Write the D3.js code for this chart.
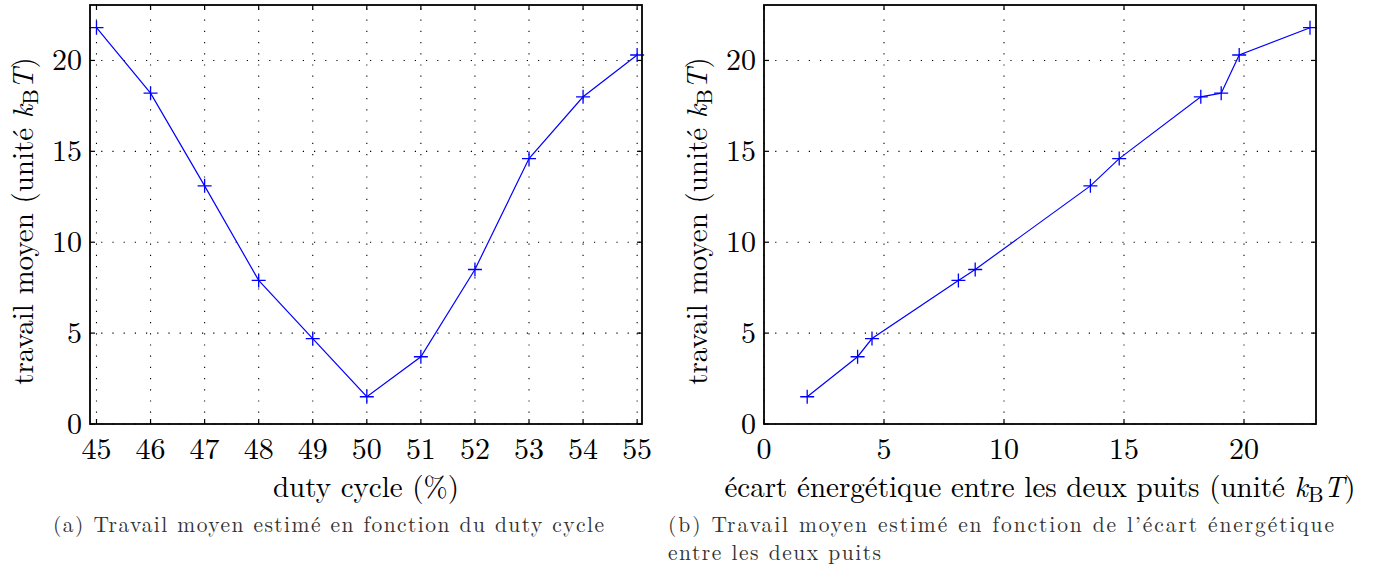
<!DOCTYPE html>
<html>
<head>
<meta charset="utf-8">
<script src="https://cdn.jsdelivr.net/npm/d3@7"></script>
<style>
  body { margin: 0; background: #fff; }
</style>
</head>
<body>
<div id="vis"></div>
<script>
// data
var dutyCycle = [45, 46, 47, 48, 49, 50, 51, 52, 53, 54, 55];
var travail   = [21.8, 18.2, 13.1, 7.9, 4.7, 1.5, 3.7, 8.5, 14.6, 18.0, 20.3];
var ecart     = [22.75, 19.05, 13.6, 8.1, 4.5, 1.8, 3.9, 8.8, 14.8, 18.2, 19.8];

var yTicks = [0, 5, 10, 15, 20];
var xTicksA = [45, 46, 47, 48, 49, 50, 51, 52, 53, 54, 55];
var xTicksB = [0, 5, 10, 15, 20];

var W = 1374, H = 568;

var svg = d3.select("#vis").append("svg")
    .attr("width", W)
    .attr("height", H)
    .attr("font-family", "'Latin Modern Roman', 'Liberation Serif', serif");

var y = d3.scaleLinear().domain([0, 23.05]).range([424, 5]);

// "k_B T)" in math style
function kbt(t) {
  t.append("tspan").attr("font-style", "italic").text("k");
  t.append("tspan").attr("font-size", 22).attr("dy", 5).text("B");
  t.append("tspan").attr("font-style", "italic").attr("dy", -5).text("T");
  t.append("tspan").text(")");
}

function panel(cfg) {
  var x = d3.scaleLinear().domain(cfg.xdom).range(cfg.xr);
  var g = svg.append("g");
  var x0 = cfg.xr[0], x1 = cfg.xr[1], y0 = y.range()[0], y1 = y.range()[1];

  // dotted grid
  g.selectAll(".gx").data(cfg.xticks).enter().append("line")
      .attr("x1", function(d) { return x(d); }).attr("x2", function(d) { return x(d); })
      .attr("y1", y0).attr("y2", y1)
      .attr("stroke", "#000").attr("stroke-width", 1.1)
      .attr("stroke-dasharray", "1.2,10");
  g.selectAll(".gy").data(yTicks).enter().append("line")
      .attr("x1", x0).attr("x2", x1)
      .attr("y1", function(d) { return y(d); }).attr("y2", function(d) { return y(d); })
      .attr("stroke", "#000").attr("stroke-width", 1.1)
      .attr("stroke-dasharray", "1.2,10");

  // inward ticks on all four sides
  var tl = 5;
  cfg.xticks.forEach(function(d) {
    g.append("line").attr("x1", x(d)).attr("x2", x(d)).attr("y1", y0).attr("y2", y0 - tl)
        .attr("stroke", "#000").attr("stroke-width", 1.2);
    g.append("line").attr("x1", x(d)).attr("x2", x(d)).attr("y1", y1).attr("y2", y1 + tl)
        .attr("stroke", "#000").attr("stroke-width", 1.2);
  });
  yTicks.forEach(function(d) {
    g.append("line").attr("x1", x0).attr("x2", x0 + tl).attr("y1", y(d)).attr("y2", y(d))
        .attr("stroke", "#000").attr("stroke-width", 1.2);
    g.append("line").attr("x1", x1).attr("x2", x1 - tl).attr("y1", y(d)).attr("y2", y(d))
        .attr("stroke", "#000").attr("stroke-width", 1.2);
  });

  // tick labels
  g.selectAll(".tx").data(cfg.xticks).enter().append("text")
      .attr("x", function(d) { return x(d); })
      .attr("y", 459)
      .attr("text-anchor", "middle")
      .attr("font-size", 30)
      .text(function(d) { return d; });
  g.selectAll(".ty").data(yTicks).enter().append("text")
      .attr("x", x0 - 8)
      .attr("y", function(d) { return y(d); })
      .attr("dy", "0.33em")
      .attr("text-anchor", "end")
      .attr("font-size", 30)
      .text(function(d) { return d; });

  // the curve
  var pts = cfg.xs.map(function(d, i) { return [d, travail[i]]; });
  if (cfg.sort) pts.sort(function(a, b) { return a[0] - b[0]; });
  var line = d3.line()
      .x(function(d) { return x(d[0]); })
      .y(function(d) { return y(d[1]); });
  g.append("path")
      .datum(pts)
      .attr("fill", "none")
      .attr("stroke", "#0000ff")
      .attr("stroke-width", 1.2)
      .attr("d", line);
  var m = 7;
  g.selectAll(".mk").data(pts).enter().append("path")
      .attr("fill", "none")
      .attr("stroke", "#0000ff")
      .attr("stroke-width", 1.3)
      .attr("d", function(d) {
        var px = x(d[0]), py = y(d[1]);
        return "M" + (px - m) + "," + py + "H" + (px + m) + "M" + px + "," + (py - m) + "V" + (py + m);
      });

  // frame
  g.append("rect")
      .attr("x", x0).attr("y", y1)
      .attr("width", x1 - x0).attr("height", y0 - y1)
      .attr("fill", "none").attr("stroke", "#000").attr("stroke-width", 1.8);

  // y title
  var yt = g.append("text")
      .attr("transform", "translate(" + cfg.ytx + ",221) rotate(-90)")
      .attr("text-anchor", "middle")
      .attr("font-size", 29);
  yt.append("tspan").text("travail moyen (unité ");
  kbt(yt);

  // x title
  var xt = g.append("text")
      .attr("x", (x0 + x1) / 2)
      .attr("y", 497)
      .attr("text-anchor", "middle")
      .attr("font-size", 29);
  cfg.xtitle(xt);

  // caption
  cfg.caption.forEach(function(c, i) {
    g.append("text")
        .attr("x", cfg.capx)
        .attr("y", 532 + i * 28)
        .attr("font-size", 21.5)
        .attr("fill", "#333")
        .attr("textLength", c.len)
        .attr("lengthAdjust", "spacing")
        .text(c.t);
  });
}

panel({
  xdom: [44.88, 55.09], xr: [90, 642], xticks: xTicksA, xs: dutyCycle, sort: false,
  ytx: 33,
  xtitle: function(t) { t.text("duty cycle (%)"); },
  capx: 53,
  caption: [{t: "(a) Travail moyen estimé en fonction du duty cycle", len: 551}]
});

panel({
  xdom: [0, 23], xr: [764, 1316], xticks: xTicksB, xs: ecart, sort: true,
  ytx: 707,
  xtitle: function(t) {
    t.append("tspan").text("écart énergétique entre les deux puits (unité ");
    kbt(t);
  },
  capx: 668,
  caption: [
    {t: "(b) Travail moyen estimé en fonction de l’écart énergétique", len: 666},
    {t: "entre les deux puits", len: 213}
  ]
});
</script>
</body>
</html>
